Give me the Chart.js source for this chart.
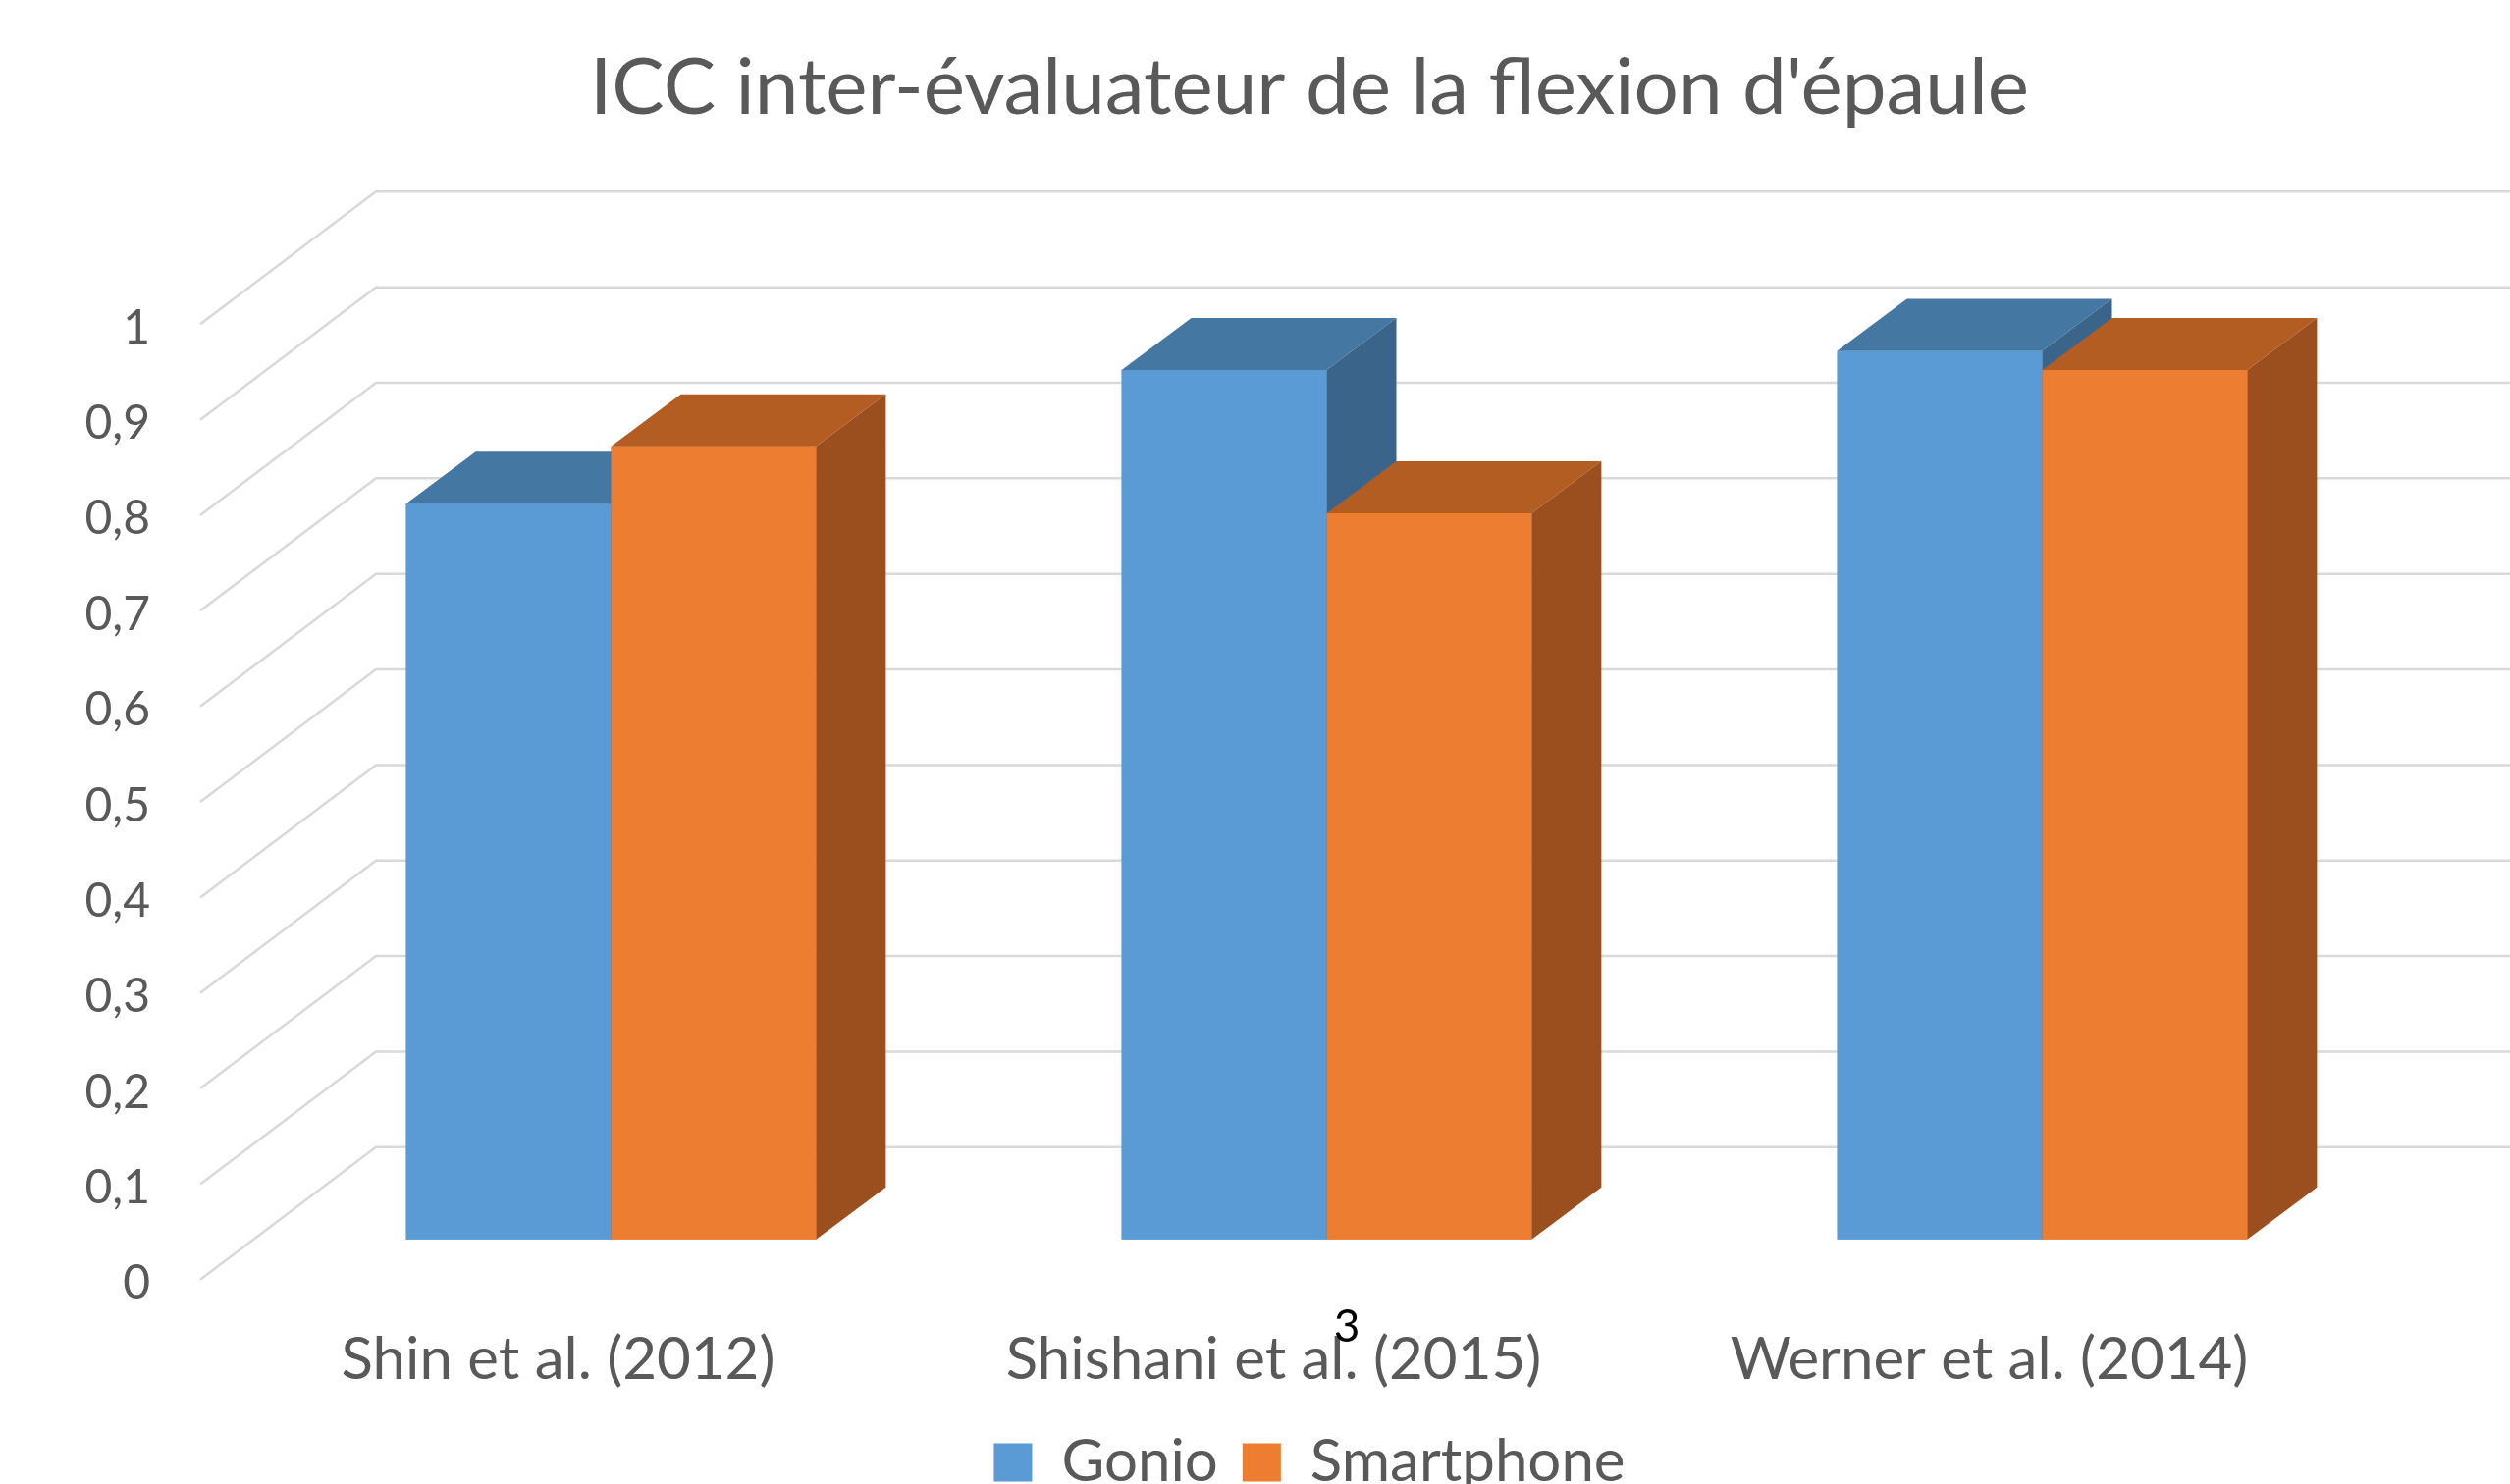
<!DOCTYPE html>
<html>
<head>
<meta charset="utf-8">
<script src="https://cdn.jsdelivr.net/npm/chart.js@4.4.1/dist/chart.umd.min.js"></script>
<style>
  html, body { margin: 0; padding: 0; overflow: hidden; background: #fff; }
  #grafico-wrap { width: 2557px; height: 1530px; position: relative; }
</style>
</head>
<body>
<div id="grafico-wrap"><canvas id="myChart"></canvas></div>
<script>

const categorias = ['Shin et al. (2012)', 'Shishani et al. (2015)', 'Werner et al. (2014)'];
const gonio = [0.77, 0.91, 0.93];
const smartphone = [0.83, 0.76, 0.91];
const nomesSeries = ['Gonio', 'Smartphone'];
const titulo = "ICC inter-évaluateur de la flexion d'épaule";
const numeroPagina = '3';

// frente, topo, lateral de cada barra
const coresGonio = ['#5B9BD5', '#4577A3', '#3A6489'];
const coresSmart = ['#ED7D31', '#B45D22', '#9B4F1E'];

// deslocamentos da perspectiva, em px, a partir do plano das barras
const FRENTE = { dx: -54, dy: 41 };
const FUNDO = { dx: 125, dy: -94 };
const PROF = { dx: 71, dy: -53 };

const cinza = '#595959';

function poligono(ctx, pts) {
  ctx.beginPath();
  ctx.moveTo(pts[0][0], pts[0][1]);
  for (let k = 1; k < pts.length; k++) ctx.lineTo(pts[k][0], pts[k][1]);
  ctx.closePath();
  ctx.fill();
}

function formataValor(v) {
  return String(Math.round(v * 10) / 10).replace('.', ',');
}

const efeito3d = {
  id: 'efeito3d',
  beforeDatasetsDraw(chart) {
    const { ctx, chartArea: area } = chart;
    const y = chart.scales.y;
    ctx.save();
    ctx.strokeStyle = '#D9D9D9';
    ctx.lineWidth = 2.5;
    y.ticks.forEach(t => {
      const py = y.getPixelForValue(t.value);
      ctx.beginPath();
      ctx.moveTo(area.left + FRENTE.dx, py + FRENTE.dy);
      ctx.lineTo(area.left + FUNDO.dx, py + FUNDO.dy);
      ctx.lineTo(chart.width, py + FUNDO.dy);
      ctx.stroke();
    });

    // valores do eixo, na aresta da frente
    ctx.fillStyle = cinza;
    ctx.font = '48px Lato';
    ctx.textAlign = 'right';
    ctx.textBaseline = 'middle';
    y.ticks.forEach(t => {
      const py = y.getPixelForValue(t.value);
      ctx.fillText(formataValor(t.value), area.left - 105, py + FRENTE.dy + 4);
    });
    ctx.restore();
  },
  afterDatasetsDraw(chart) {
    const ctx = chart.ctx;
    const cores = [coresGonio, coresSmart];
    ctx.save();
    categorias.forEach((c, i) => {
      chart.data.datasets.forEach((ds, d) => {
        const bar = chart.getDatasetMeta(d).data[i].getProps(['x', 'y', 'base', 'width'], true);
        const esq = bar.x - bar.width / 2;
        const dir = bar.x + bar.width / 2;
        const topo = bar.y;
        const base = bar.base;
        const [frente, cima, lado] = cores[d];

        ctx.fillStyle = frente;
        ctx.fillRect(esq, topo, dir - esq, base - topo);

        ctx.fillStyle = cima;
        poligono(ctx, [[esq, topo], [dir, topo], [dir + PROF.dx, topo + PROF.dy], [esq + PROF.dx, topo + PROF.dy]]);

        ctx.fillStyle = lado;
        poligono(ctx, [[dir, topo], [dir + PROF.dx, topo + PROF.dy], [dir + PROF.dx, base + PROF.dy], [dir, base]]);
      });
    });
    ctx.restore();
  },
  afterDraw(chart) {
    // numero da pagina por cima do grafico
    const ctx = chart.ctx;
    ctx.save();
    ctx.fillStyle = '#000';
    ctx.font = '46px Lato';
    ctx.textAlign = 'center';
    ctx.textBaseline = 'middle';
    ctx.fillText(numeroPagina, 1372, 1352);
    ctx.restore();
  }
};

Chart.defaults.font.family = 'Lato';
Chart.defaults.color = cinza;

const canvas = document.getElementById('myChart');
const ctx = canvas.getContext('2d');

const chart = new Chart(ctx, {
  type: 'bar',
  data: {
    labels: categorias,
    datasets: [{
      label: nomesSeries[0],
      data: gonio,
      backgroundColor: coresGonio[0],
      borderWidth: 0
    }, {
      label: nomesSeries[1],
      data: smartphone,
      backgroundColor: coresSmart[0],
      borderWidth: 0
    }]
  },
  options: {
    responsive: true,
    maintainAspectRatio: false,
    devicePixelRatio: 1,
    animation: false,
    layout: { padding: { left: 223, right: 112, top: 0, bottom: 0 } },
    datasets: {
      bar: { categoryPercentage: 0.573, barPercentage: 1 }
    },
    plugins: {
      title: {
        display: true,
        text: titulo,
        color: cinza,
        font: { size: 80, weight: 'normal', lineHeight: 1.2 },
        padding: { top: 42, bottom: 151.3 }
      },
      legend: {
        position: 'bottom',
        labels: {
          color: cinza,
          font: { size: 60 },
          boxWidth: 39,
          boxHeight: 39,
          padding: 25
        }
      },
      tooltip: { enabled: false }
    },
    scales: {
      x: {
        grid: { display: false, drawTicks: false },
        border: { display: false },
        ticks: {
          font: { size: 60 },
          color: cinza,
          padding: 86.7,
          labelOffset: -54,
          maxRotation: 0
        },
        afterFit: s => { s.height = 172.2; }
      },
      y: {
        min: 0,
        max: 1,
        grid: { display: false, drawTicks: false },
        border: { display: false },
        ticks: {
          stepSize: 0.1,
          display: false
        },
        afterFit: s => { s.width = 35; }
      }
    }
  },
  plugins: [efeito3d]
});

</script>
</body>
</html>
